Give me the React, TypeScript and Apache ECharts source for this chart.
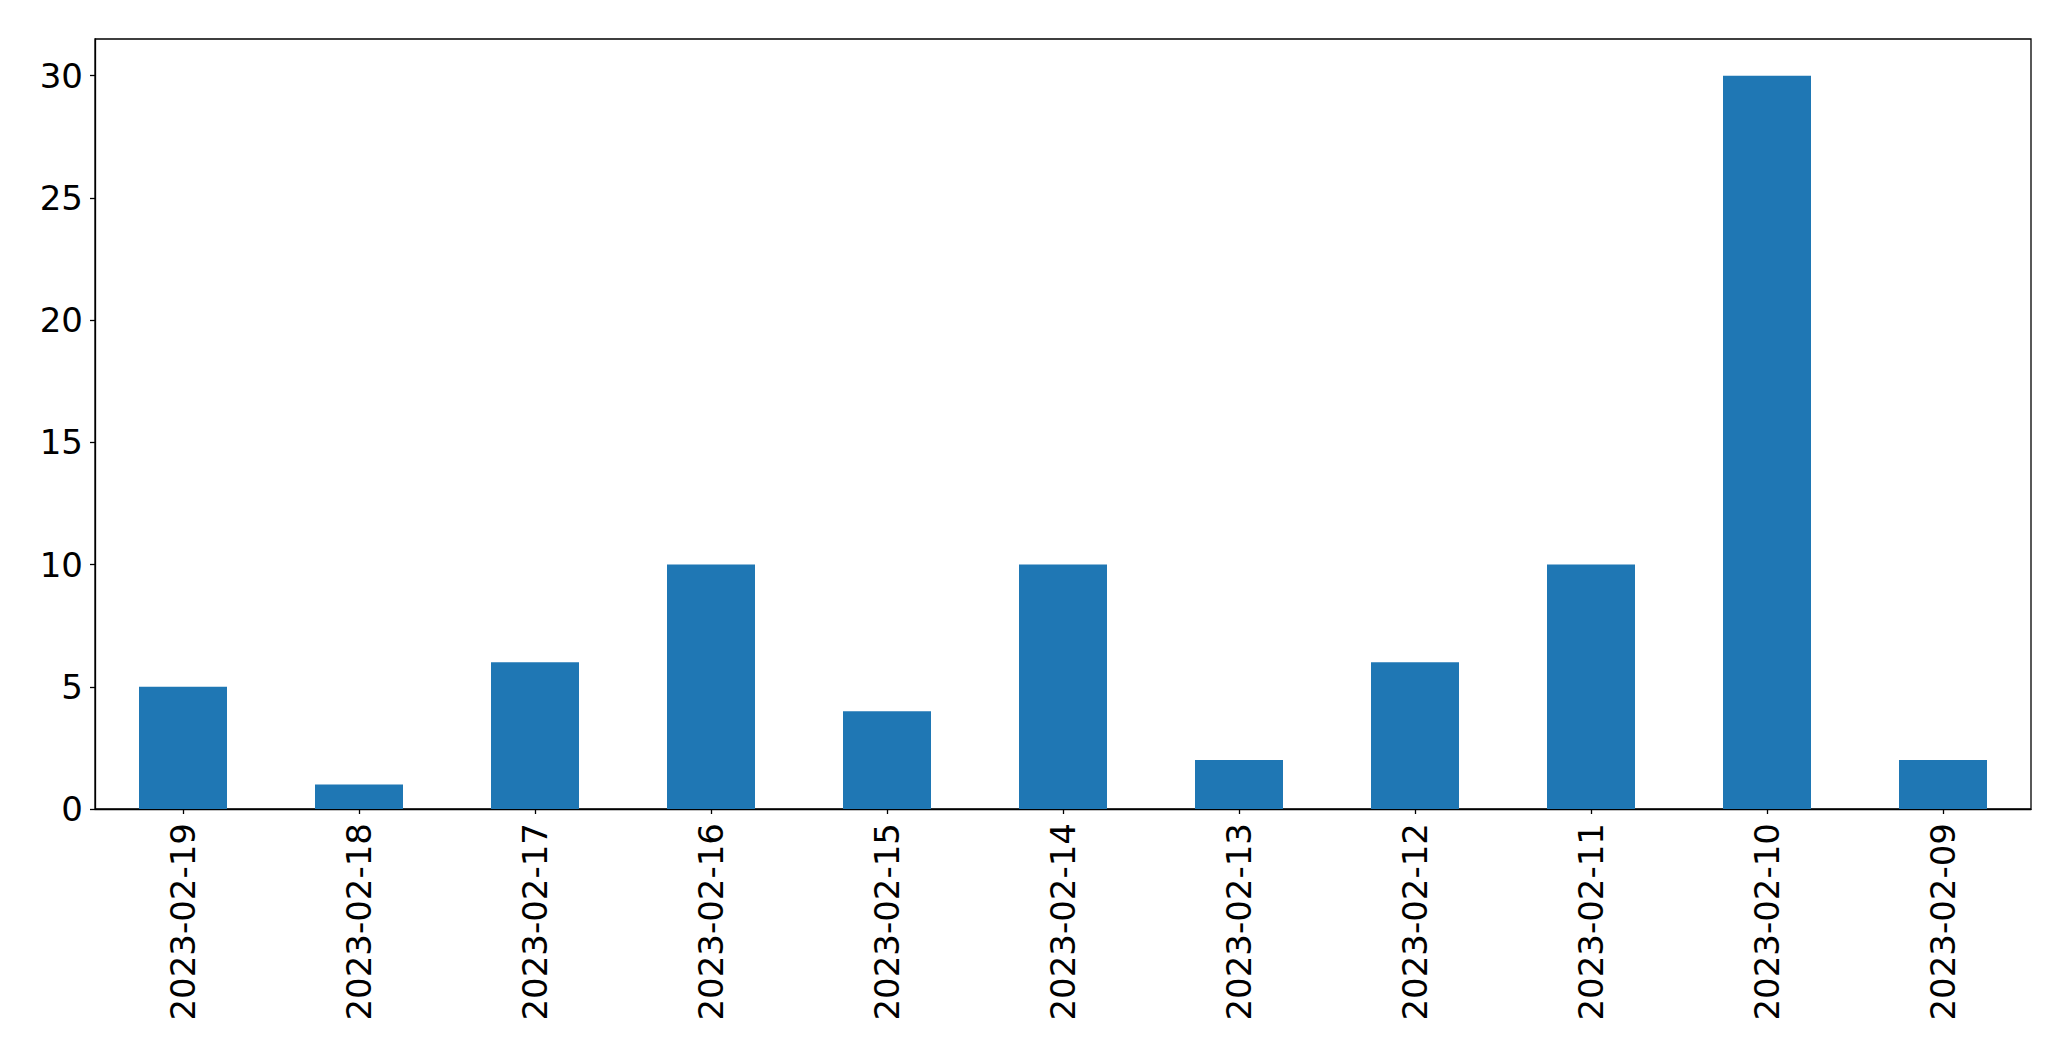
import React, { useEffect, useRef } from "react";
import * as echarts from "echarts";

const categories = [
  "2023-02-19", "2023-02-18", "2023-02-17", "2023-02-16", "2023-02-15",
  "2023-02-14", "2023-02-13", "2023-02-12", "2023-02-11", "2023-02-10", "2023-02-09",
];
const values = [5, 1, 6, 10, 4, 10, 2, 6, 10, 30, 2];
const yTicks = [0, 5, 10, 15, 20, 25, 30];

export default function App() {
  const ref = useRef<HTMLDivElement>(null);
  useEffect(() => {
    if (!ref.current) return;
    const chart = echarts.init(ref.current, undefined, { renderer: "svg" });
    const font = "DejaVu Sans";
    chart.setOption({
      animation: false,
      backgroundColor: "#ffffff",
      grid: {
        left: 95,
        right: 40,
        top: 39,
        bottom: 252,
        show: true,
        borderColor: "#000000",
        borderWidth: 1.3,
        backgroundColor: "transparent",
      },
      xAxis: {
        type: "category",
        data: categories,
        boundaryGap: true,
        axisLine: { show: true, lineStyle: { color: "#000000", width: 1.3 } },
        axisTick: { show: true, alignWithLabel: true, length: 5, lineStyle: { color: "#000000", width: 1.3 } },
        axisLabel: {
          rotate: 90,
          interval: 0,
          margin: 14,
          color: "#000000",
          fontFamily: font,
          fontSize: 34,
        },
        splitLine: { show: false },
      },
      yAxis: {
        type: "value",
        min: 0,
        max: 31.5,
        interval: 5,
        axisLine: { show: true, lineStyle: { color: "#000000", width: 1.3 } },
        axisTick: { show: true, length: 5, customValues: yTicks, lineStyle: { color: "#000000", width: 1.3 } },
        axisLabel: {
          customValues: yTicks,
          margin: 12,
          color: "#000000",
          fontFamily: font,
          fontSize: 34,
        },
        splitLine: { show: false },
      },
      series: [
        {
          type: "bar",
          data: values,
          barWidth: "50%",
          itemStyle: { color: "#1f77b4" },
        },
      ],
    });
    return () => chart.dispose();
  }, []);
  return (
    <div
      ref={ref}
      style={{ position: "fixed", left: 0, top: 0, width: 2071, height: 1061, background: "#fff" }}
    />
  );
}
